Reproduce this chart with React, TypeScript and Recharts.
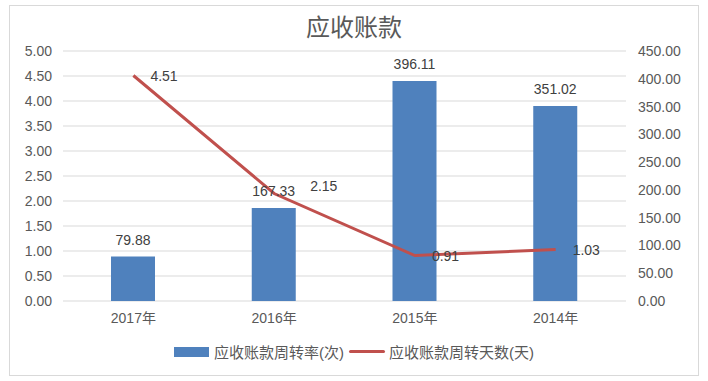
import React from 'react';
import { ComposedChart, Bar, Line, XAxis, YAxis, CartesianGrid, LabelList, Legend } from 'recharts';

const categories = ['2017年', '2016年', '2015年', '2014年'];
const turnoverRate = [79.88, 167.33, 396.11, 351.02];
const turnoverDays = [4.51, 2.15, 0.91, 1.03];
const leftTicks = [0, 0.5, 1, 1.5, 2, 2.5, 3, 3.5, 4, 4.5, 5];
const rightTicks = [0, 50, 100, 150, 200, 250, 300, 350, 400, 450];
const boundaryTicks = [0, 1, 2, 3, 4];
const barName = '应收账款周转率(次)';
const lineName = '应收账款周转天数(天)';
const title = '应收账款';

const data = categories.map((c, i) => ({ cat: c, rate: turnoverRate[i], days: turnoverDays[i] }));

const FONT = '"Liberation Sans", "Noto Sans CJK SC", sans-serif';
const TXT = '#595959';

const LineLabel = (props: any) => {
  const { x, y, value, index } = props;
  // label of the second point is nudged to avoid the bar label, as in the reference
  const dx = index === 1 ? 36 : 17;
  const dy = index === 1 ? -8 : 0;
  return (
    <text x={x + dx} y={y + dy} dominantBaseline="central" fill="#404040" fontSize={14} fontFamily={FONT}>
      {Number(value).toFixed(2)}
    </text>
  );
};

const LegendContent = () => (
  <div style={{ display: 'flex', justifyContent: 'center', alignItems: 'center', fontFamily: FONT, fontSize: 15, color: TXT }}>
    <span style={{ display: 'inline-block', width: 35, height: 10, background: '#4F81BD', marginRight: 5 }} />
    <span>{barName}</span>
    <span style={{ display: 'inline-block', width: 36, height: 3, background: '#C0504D', borderRadius: 2, margin: '0 4px 0 5px' }} />
    <span>{lineName}</span>
  </div>
);

export default function App() {
  return (
    <div style={{ position: 'absolute', left: 0, top: 0, width: 708, height: 381, background: '#fff', fontFamily: FONT }}>
      <div style={{ position: 'absolute', left: 9, top: 5, width: 690, height: 371, border: '1px solid #d9d9d9', boxSizing: 'border-box' }} />
      <div style={{ position: 'absolute', left: 0, top: 13, width: 708, textAlign: 'center', fontSize: 24, color: TXT, fontFamily: FONT, lineHeight: '30px' }}>
        {title}
      </div>
      <ComposedChart width={708} height={381} data={data} margin={{ top: 51, right: 0, left: 0, bottom: 50 }} style={{ position: 'absolute', left: 0, top: 0 }}>
        <CartesianGrid vertical={false} stroke="#d9d9d9" yAxisId="left" />
        <XAxis xAxisId="b" type="number" domain={[0, 4]} ticks={boundaryTicks} allowDataOverflow height={0} tick={false} tickSize={5} tickLine={{ stroke: '#d9d9d9' }} axisLine={{ stroke: '#d9d9d9' }} />
        <XAxis dataKey="cat" height={30} axisLine={false} tickLine={false} tickSize={0} tickMargin={12} tick={{ fill: TXT, fontSize: 14, fontFamily: FONT }} />
        <YAxis yAxisId="left" orientation="left" width={63} domain={[0, 5]} ticks={leftTicks} axisLine={false} tickLine={false} tickSize={0} tickMargin={11} tickFormatter={(v: number) => v.toFixed(2)} tick={{ fill: TXT, fontSize: 14, fontFamily: FONT }} />
        <YAxis yAxisId="right" orientation="right" width={82} domain={[0, 450]} ticks={rightTicks} axisLine={false} tickLine={false} tickSize={0} tickMargin={12} tickFormatter={(v: number) => v.toFixed(2)} tick={{ fill: TXT, fontSize: 14, fontFamily: FONT, textAnchor: 'start' }} />
        <Bar yAxisId="right" dataKey="rate" name={barName} fill="#4F81BD" barSize={44} isAnimationActive={false}>
          <LabelList dataKey="rate" position="top" offset={12} fill="#404040" fontSize={14} fontFamily={FONT} formatter={(v: any) => Number(v).toFixed(2)} />
        </Bar>
        <Line yAxisId="left" dataKey="days" name={lineName} stroke="#C0504D" strokeWidth={3} dot={false} activeDot={false} isAnimationActive={false}>
          <LabelList dataKey="days" content={<LineLabel />} />
        </Line>
        <Legend verticalAlign="middle" align="center" content={<LegendContent />} wrapperStyle={{ top: 341, left: 0, width: 708 }} />
      </ComposedChart>
    </div>
  );
}
